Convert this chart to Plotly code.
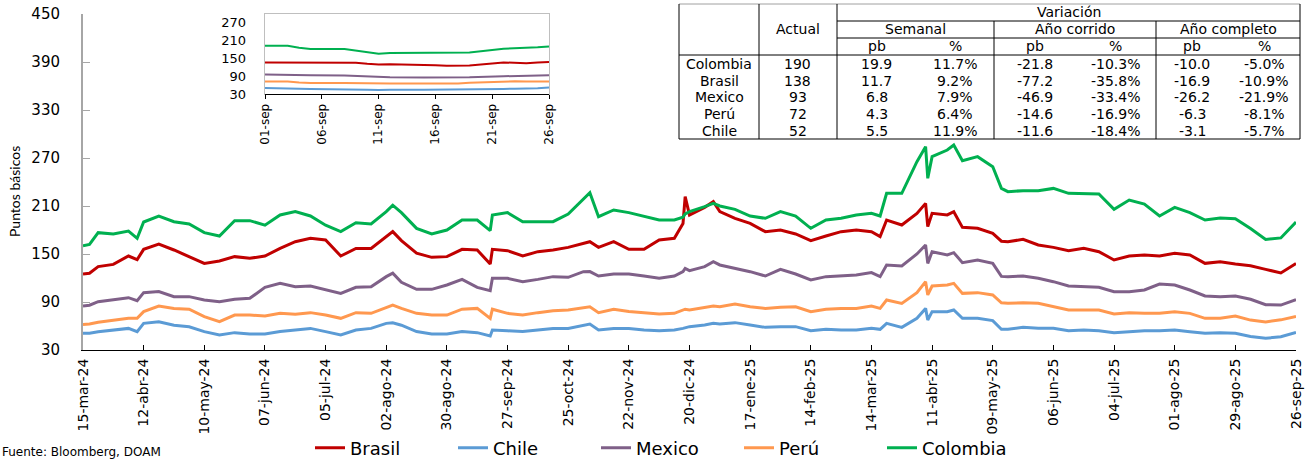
import pandas as pd
import plotly.graph_objects as go

W, H = 1310, 461


def px(x):
    return x / W


def py(y):
    return 1 - y / H


# ---------------- Data (main chart, weekly Fridays + a few daily extremes) -------------
weekly_dates = pd.date_range("2024-03-15", "2025-09-26", freq="7D")

colombia_w = [160.4, 176.7, 175.0, 178.7, 190.0, 197.5, 190.4, 187.5, 176.7, 172.5,
              191.7, 191.7, 186.0, 198.8, 203.0, 197.5, 186.0, 178.0, 189.0, 187.5,
              203.0, 201.7, 182.0, 175.0, 180.0, 192.5, 192.5, 198.8, 201.7, 190.4,
              190.4, 190.4, 200.0, 219.6, 196.7, 205.0, 201.7, 196.7, 192.5, 192.5,
              202.9, 209.2, 210.0, 205.8, 197.5, 194.6, 202.9, 197.5, 182.1, 192.5,
              194.6, 198.8, 200.8, 225.8, 225.8, 265.4, 271.7, 280.0, 266.7, 271.7,
              259.2, 227.9, 229.2, 229.2, 232.0, 225.8, 225.8, 225.0, 205.8, 217.5,
              212.5, 197.5, 208.3, 201.7, 192.5, 195.0, 194.2, 181.8, 168.2, 170.1,
              190.0]
brasil_w = [125.0, 134.2, 137.0, 147.5, 155.8, 162.5, 155.0, 146.7, 138.3, 141.2,
            146.7, 144.6, 147.5, 157.0, 165.4, 169.6, 167.5, 147.5, 157.0, 157.0,
            172.5, 166.7, 151.0, 145.8, 146.7, 155.8, 155.0, 155.8, 154.2, 147.5,
            152.9, 155.0, 158.3, 163.3, 158.3, 165.4, 155.8, 155.8, 167.5, 169.6,
            198.8, 208.3, 202.9, 194.6, 188.3, 177.9, 180.0, 175.0, 166.7, 172.5,
            177.9, 180.0, 177.9, 192.5, 186.3, 200.8, 200.8, 198.8, 183.3, 182.1,
            175.8, 165.4, 168.3, 161.3, 158.3, 154.2, 157.1, 152.9, 142.5, 147.5,
            148.8, 147.5, 150.8, 148.8, 138.3, 140.4, 137.5, 135.3, 130.8, 126.3,
            138.0]
mexico_w = [85.0, 90.4, 92.5, 95.4, 101.7, 103.0, 96.7, 96.7, 92.5, 90.4,
            93.3, 94.6, 108.3, 113.3, 109.0, 110.0, 105.8, 100.8, 108.3, 109.0,
            121.7, 114.6, 105.8, 105.8, 111.3, 118.3, 108.3, 119.6, 119.6, 115.4,
            118.3, 121.7, 120.8, 127.9, 122.5, 125.0, 125.0, 122.5, 119.6, 122.5,
            129.2, 134.2, 136.3, 132.1, 127.9, 122.5, 130.8, 125.0, 117.5, 121.7,
            122.5, 123.8, 126.7, 136.3, 135.0, 150.0, 152.9, 148.8, 139.2, 142.5,
            138.3, 121.7, 122.5, 119.6, 115.4, 110.0, 109.2, 108.3, 102.9, 102.9,
            105.0, 112.5, 111.3, 105.0, 97.5, 96.7, 97.5, 93.4, 86.6, 86.2,
            93.0]
peru_w = [62.0, 64.6, 66.7, 69.6, 78.0, 85.0, 82.0, 81.0, 71.7, 65.4,
          73.7, 73.7, 72.5, 75.8, 74.6, 76.7, 73.7, 69.6, 76.7, 75.8,
          83.3, 82.0, 75.8, 73.7, 73.7, 81.0, 82.0, 81.0, 75.8, 73.7,
          76.7, 79.0, 80.0, 83.3, 76.7, 81.0, 78.0, 76.7, 75.0, 75.8,
          80.0, 83.3, 84.0, 87.5, 84.0, 82.0, 83.3, 84.0, 77.9, 80.8,
          82.0, 82.0, 85.0, 92.5, 88.3, 101.7, 110.0, 111.3, 100.8, 101.7,
          98.8, 88.3, 89.2, 88.3, 84.2, 80.0, 80.0, 80.0, 75.0, 76.7,
          75.8, 75.8, 77.9, 75.8, 69.6, 69.6, 72.5, 67.4, 65.1, 67.7,
          72.0]
chile_w = [51.0, 52.9, 55.0, 57.0, 63.3, 65.4, 61.0, 59.0, 53.0, 48.8,
           51.7, 50.0, 50.0, 53.0, 55.0, 57.0, 53.0, 48.8, 55.0, 57.0,
           63.3, 61.0, 53.0, 50.0, 50.0, 53.0, 51.7, 55.0, 54.0, 53.0,
           55.0, 57.0, 57.0, 61.0, 55.0, 57.0, 57.0, 55.0, 54.0, 55.0,
           59.2, 61.3, 62.5, 64.2, 61.3, 58.3, 59.2, 59.2, 54.2, 55.8,
           55.0, 55.0, 57.1, 63.3, 58.3, 69.6, 77.9, 77.9, 69.6, 69.6,
           66.7, 55.8, 58.3, 57.1, 57.1, 54.2, 55.0, 54.2, 51.7, 52.9,
           54.2, 54.2, 55.0, 52.9, 50.8, 51.7, 50.8, 47.0, 44.7, 46.5,
           52.0]

extra_dates = ["2024-03-18", "2024-04-09", "2024-08-05", "2024-09-19", "2024-11-04",
               "2024-12-17", "2024-12-18", "2024-12-31", "2025-03-18", "2025-04-08",
               "2025-04-09", "2025-04-21", "2025-05-13"]
colombia_x = [162.0, 169.6, 211.0, 179.2, 226.7, 196.0, 200.0, 213.3, 197.5, 284.2, 244.6, 286.3, 232.0]
brasil_x = [126.0, 143.0, 178.0, 137.5, 165.4, 188.0, 221.7, 215.4, 171.7, 213.3, 184.2, 202.9, 166.0]
mexico_x = [86.0, 91.7, 126.0, 104.2, 128.0, 128.0, 132.0, 140.4, 121.7, 161.3, 138.3, 151.7, 122.0]
peru_x = [62.5, 69.6, 86.0, 69.6, 84.0, 80.0, 81.0, 85.0, 82.0, 115.4, 98.8, 113.3, 89.0]
chile_x = [51.0, 53.0, 64.0, 47.5, 62.5, 57.0, 58.0, 63.3, 55.8, 82.0, 67.5, 80.0, 56.0]

main_ticks = ["2024-03-15", "2024-04-12", "2024-05-10", "2024-06-07", "2024-07-05",
              "2024-08-02", "2024-08-30", "2024-09-27", "2024-10-25", "2024-11-22",
              "2024-12-20", "2025-01-17", "2025-02-14", "2025-03-14", "2025-04-11",
              "2025-05-09", "2025-06-06", "2025-07-04", "2025-08-01", "2025-08-29",
              "2025-09-26"]
main_tick_labels = ["15-mar-24", "12-abr-24", "10-may-24", "07-jun-24", "05-jul-24",
                    "02-ago-24", "30-ago-24", "27-sep-24", "25-oct-24", "22-nov-24",
                    "20-dic-24", "17-ene-25", "14-feb-25", "14-mar-25", "11-abr-25",
                    "09-may-25", "06-jun-25", "04-jul-25", "01-ago-25", "29-ago-25",
                    "26-sep-25"]
main_yticks = [30, 90, 150, 210, 270, 330, 390, 450]

# ---------------- Inset data (September 2025, business days) ----------------
sep_dates = pd.bdate_range("2025-09-01", "2025-09-26")
colombia_sep = [193.1, 194.2, 193.1, 186.3, 181.8, 181.8, 177.2, 170.4, 165.9, 168.2,
                168.2, 169.3, 170.4, 169.3, 170.1, 182.9, 184.0, 185.2, 187.4, 190.0]
brasil_sep = [136.5, 136.5, 136.5, 136.5, 135.3, 135.3, 135.3, 131.9, 129.7, 130.8,
              129.7, 127.4, 125.1, 125.1, 126.3, 136.5, 134.2, 134.2, 136.5, 138.0]
mexico_sep = [95.7, 95.7, 94.6, 93.4, 93.4, 92.3, 91.2, 88.9, 86.6, 86.6,
              85.5, 85.5, 85.5, 84.4, 86.2, 90.0, 91.2, 91.2, 91.2, 93.0]
peru_sep = [71.9, 73.0, 71.9, 68.5, 67.4, 67.4, 66.2, 65.1, 64.0, 65.1,
            65.1, 65.1, 65.1, 65.1, 67.7, 71.9, 73.0, 71.9, 70.8, 72.0]
chile_sep = [50.4, 50.4, 49.3, 48.1, 47.0, 47.0, 45.9, 44.7, 43.6, 44.7,
             44.7, 44.7, 45.9, 44.7, 46.5, 47.0, 48.1, 48.1, 49.3, 52.0]
inset_ticks = ["2025-09-01", "2025-09-06", "2025-09-11", "2025-09-16", "2025-09-21", "2025-09-26"]
inset_tick_labels = ["01-sep", "06-sep", "11-sep", "16-sep", "21-sep", "26-sep"]
inset_yticks = [30, 90, 150, 210, 270]

# ---------------- Table data ----------------
paises = ["Colombia", "Brasil", "Mexico", "Perú", "Chile"]
actual = [190, 138, 93, 72, 52]
sem_pb = [19.9, 11.7, 6.8, 4.3, 5.5]
sem_pct = [11.7, 9.2, 7.9, 6.4, 11.9]
ytd_pb = [-21.8, -77.2, -46.9, -14.6, -11.6]
ytd_pct = [-10.3, -35.8, -33.4, -16.9, -18.4]
yoy_pb = [-10.0, -16.9, -26.2, -6.3, -3.1]
yoy_pct = [-5.0, -10.9, -21.9, -8.1, -5.7]

names = ["Brasil", "Chile", "Mexico", "Perú", "Colombia"]
colors = {"Brasil": "#C00000", "Chile": "#5B9BD5", "Mexico": "#7F6088",
          "Perú": "#FF984F", "Colombia": "#00B050"}
weekly = {"Brasil": brasil_w, "Chile": chile_w, "Mexico": mexico_w, "Perú": peru_w, "Colombia": colombia_w}
extra = {"Brasil": brasil_x, "Chile": chile_x, "Mexico": mexico_x, "Perú": peru_x, "Colombia": colombia_x}
sept = {"Brasil": brasil_sep, "Chile": chile_sep, "Mexico": mexico_sep, "Perú": peru_sep, "Colombia": colombia_sep}

FONT = "DejaVu Sans"
fig = go.Figure()

for n in names:
    s = pd.Series(list(weekly[n]) + list(extra[n]),
                  index=list(weekly_dates) + list(pd.to_datetime(extra_dates))).sort_index()
    fig.add_trace(go.Scatter(x=s.index, y=s.values, mode="lines", name=n,
                             line=dict(color=colors[n], width=3), xaxis="x", yaxis="y"))

for n in names:
    fig.add_trace(go.Scatter(x=sep_dates, y=sept[n], mode="lines", name=n, showlegend=False,
                             line=dict(color=colors[n], width=2), xaxis="x2", yaxis="y2"))

shapes = []
annotations = []

# inset frame
shapes.append(dict(type="rect", xref="paper", yref="paper", x0=px(265), x1=px(549),
                   y0=py(94), y1=py(14), line=dict(color="#BFBFBF", width=2), layer="below"))

# table
cols = [679, 759, 837, 916, 994, 1075, 1156, 1228, 1300]
rows = [4, 21, 38, 55, 72, 89, 105.5, 122, 139]


def hline(x0, x1, y, color="black"):
    shapes.append(dict(type="line", xref="paper", yref="paper", x0=px(x0), x1=px(x1),
                       y0=py(y), y1=py(y), line=dict(color=color, width=1)))


def vline(x, y0, y1):
    shapes.append(dict(type="line", xref="paper", yref="paper", x0=px(x), x1=px(x),
                       y0=py(y0), y1=py(y1), line=dict(color="black", width=1)))


hline(cols[0], cols[-1], rows[0], "#A0A0A0")
hline(cols[0], cols[-1], rows[-1])
hline(cols[2], cols[-1], rows[1])
hline(cols[2], cols[-1], rows[2])
hline(cols[0], cols[-1], rows[3])
vline(cols[0], rows[0], rows[-1])
vline(cols[-1], rows[0], rows[-1])
vline(cols[1], rows[0], rows[-1])
vline(cols[2], rows[0], rows[-1])
vline(cols[4], rows[1], rows[-1])
vline(cols[6], rows[1], rows[-1])

TFONT = dict(family=FONT, size=14, color="black")


def txt(x, y, t, font=TFONT):
    annotations.append(dict(x=px(x), y=py(y), xref="paper", yref="paper", text=t,
                            showarrow=False, xanchor="center", yanchor="middle", font=font))


txt((cols[2] + cols[-1]) / 2, (rows[0] + rows[1]) / 2, "Variación")
txt((cols[1] + cols[2]) / 2, (rows[0] + rows[3]) / 2, "Actual")
for (a, b), label in zip([(2, 4), (4, 6), (6, 8)], ["Semanal", "Año corrido", "Año completo"]):
    txt((cols[a] + cols[b]) / 2, (rows[1] + rows[2]) / 2, label)
for c in [2, 4, 6]:
    txt((cols[c] + cols[c + 1]) / 2, (rows[2] + rows[3]) / 2, "pb")
    txt((cols[c + 1] + cols[c + 2]) / 2, (rows[2] + rows[3]) / 2, "%")
for i, p in enumerate(paises):
    yc = (rows[3 + i] + rows[4 + i]) / 2
    vals = [p, str(actual[i]), f"{sem_pb[i]:.1f}", f"{sem_pct[i]:.1f}%", f"{ytd_pb[i]:.1f}",
            f"{ytd_pct[i]:.1f}%", f"{yoy_pb[i]:.1f}", f"{yoy_pct[i]:.1f}%"]
    for j, v in enumerate(vals):
        txt((cols[j] + cols[j + 1]) / 2, yc, v)

# y-axis title and source
annotations.append(dict(x=px(15), y=py(192), xref="paper", yref="paper", text="Puntos básicos",
                        textangle=-90, showarrow=False, xanchor="center", yanchor="middle",
                        font=dict(family="Lato", size=14, color="black")))
annotations.append(dict(x=0, y=0, xref="paper", yref="paper", text="Fuente: Bloomberg, DOAM",
                        showarrow=False, xanchor="left", yanchor="bottom",
                        font=dict(family=FONT, size=12, color="black")))

fig.update_layout(
    width=W, height=H, autosize=False,
    margin=dict(l=0, r=0, t=0, b=0, pad=0, autoexpand=False),
    paper_bgcolor="white", plot_bgcolor="white",
    font=dict(family=FONT, color="black"),
    shapes=shapes, annotations=annotations,
    xaxis=dict(domain=[px(83), px(1296)], type="date",
               range=[pd.Timestamp("2024-03-15"), pd.Timestamp("2025-09-26")],
               tickmode="array", tickvals=pd.to_datetime(main_ticks), ticktext=main_tick_labels,
               tickangle=-90, ticks="inside", ticklen=5, tickcolor="black",
               showline=True, linecolor="black", linewidth=1, showgrid=False, zeroline=False,
               tickfont=dict(family=FONT, size=14, color="black"), ticklabelstandoff=2,
               anchor="y", automargin=False),
    yaxis=dict(domain=[py(350), py(14)], range=[30, 450], tickmode="array", tickvals=main_yticks,
               ticks="inside", ticklen=7, tickcolor="#A6A6A6", showline=True, linecolor="#A6A6A6",
               linewidth=2, showgrid=False, zeroline=False,
               tickfont=dict(family=FONT, size=15, color="black"), ticklabelstandoff=18,
               anchor="x", automargin=False),
    xaxis2=dict(domain=[px(265), px(549)], type="date",
                range=[pd.Timestamp("2025-09-01"), pd.Timestamp("2025-09-26")],
                tickmode="array", tickvals=pd.to_datetime(inset_ticks), ticktext=inset_tick_labels,
                tickangle=-90, ticks="outside", ticklen=4, tickcolor="black",
                showline=True, linecolor="black", linewidth=1, showgrid=False, zeroline=False,
                tickfont=dict(family=FONT, size=12, color="black"), anchor="y2",
                layer="above traces", automargin=False),
    yaxis2=dict(domain=[py(94), py(14)], range=[30, 300], tickmode="array", tickvals=inset_yticks,
                ticks="", showline=False, showgrid=False, zeroline=False,
                tickfont=dict(family=FONT, size=13, color="black"), ticklabelstandoff=18,
                anchor="x2", automargin=False),
    legend=dict(orientation="h", x=px(310), xanchor="left", y=py(448), yanchor="middle",
                font=dict(family=FONT, size=18, color="black"), entrywidth=98,
                entrywidthmode="pixels", itemwidth=30, bgcolor="rgba(0,0,0,0)"),
)

fig.write_html("out.html", config={"displayModeBar": False},
               post_script="document.body.style.margin='0';document.body.style.overflow='hidden';")
